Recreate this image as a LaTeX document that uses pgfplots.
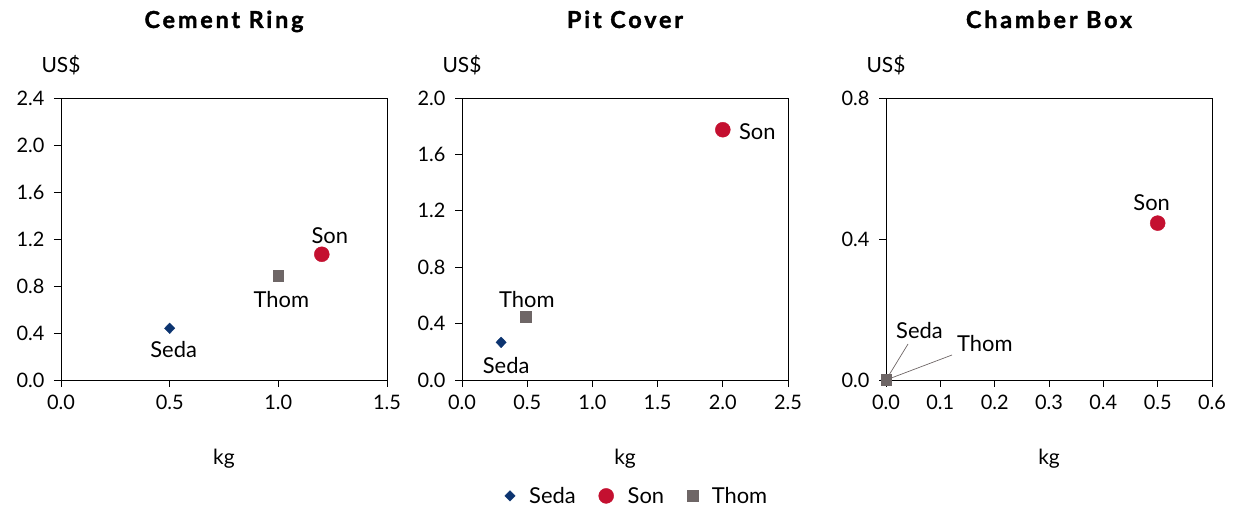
\documentclass[border=0pt]{standalone}
\usepackage{fontspec}
\setmainfont{Lato}
\usepackage{pgfplots}
\pgfplotsset{compat=1.18}

\definecolor{cseda}{RGB}{12,52,112}
\definecolor{cson}{RGB}{196,16,48}
\definecolor{cthom}{RGB}{110,102,102}

\newcommand{\fs}{\fontsize{20}{24}\selectfont}
\newcommand{\fl}{\fontsize{22}{26}\selectfont}

\pgfplotsset{
  panel/.style={
    scale only axis, width=326bp, height=282bp,
    axis line style={line width=0.9bp, black},
    tick align=outside, xtick pos=bottom, ytick pos=left,
    major tick length=7bp, tick style={line width=0.9bp, black},
    /pgf/number format/fixed, /pgf/number format/fixed zerofill,
    /pgf/number format/precision=1, /pgf/number format/assume math mode=true,
    ticklabel style={font=\fs},
    xticklabel style={yshift=-5bp},
    yticklabel style={xshift=-6bp},
    clip=false, xmin=0, ymin=0,
    every node near coord/.append style={font=\fl, text=black, inner sep=0pt},
  },
  seda/.style={only marks, mark=diamond*, mark size=5.3bp, color=cseda, mark options={fill=cseda, draw=cseda, xscale=1.3}},
  son/.style={only marks, mark=*, mark size=7.5bp, color=cson, mark options={fill=cson, draw=cson}},
  thom/.style={only marks, mark=square*, mark size=5.3bp, color=cthom, mark options={fill=cthom, draw=cthom}},
}

\newcommand{\paneldeco}[1]{%
  \node[font=\fontsize{23.5}{27}\selectfont\bfseries\addfontfeatures{FakeBold=1.5,LetterSpace=12}, anchor=base] at (rel axis cs:0.5,1) [yshift=70bp] {#1};
  \node[font=\fontsize{21}{25}\selectfont, anchor=base] at (rel axis cs:0,1) [yshift=25bp] {US\$};
  \node[font=\fontsize{21}{25}\selectfont, anchor=base] at (rel axis cs:0.5,0) [yshift=-84bp] {kg};
}

\begin{document}
\begin{tikzpicture}
\path[use as bounding box] (0,0) rectangle (1236bp,510bp);

% Panel 1
\begin{axis}[panel, at={(61bp,130bp)}, anchor=south west,
  xmax=1.5, xtick={0,0.5,1.0,1.5},
  ymax=2.4, ytick={0,0.4,0.8,1.2,1.6,2.0,2.4}]
\addplot[seda, nodes near coords={Seda}, every node near coord/.append style={anchor=base, xshift=4bp, yshift=-29bp}] coordinates {(0.5,0.44)};
\addplot[son, nodes near coords={Son}, every node near coord/.append style={anchor=base, xshift=8bp, yshift=11bp}] coordinates {(1.2,1.07)};
\addplot[thom, nodes near coords={Thom}, every node near coord/.append style={anchor=base, xshift=3bp, yshift=-32bp}] coordinates {(1.0,0.89)};
\paneldeco{Cement Ring}
\end{axis}

% Panel 2
\begin{axis}[panel, at={(462bp,130bp)}, anchor=south west,
  xmax=2.5, xtick={0,0.5,1.0,1.5,2.0,2.5},
  ymax=2.0, ytick={0,0.4,0.8,1.2,1.6,2.0},
  legend style={draw=none, fill=none, font=\fl, legend columns=3,
    at={(0.5,-0.411)}, anchor=center, xshift=12bp,
    /tikz/every odd column/.append style={column sep=12bp},
    /tikz/every even column/.append style={column sep=21bp}},
  legend image code/.code={\draw[#1] plot coordinates {(0bp,0bp)};}]
\addplot[seda, nodes near coords={Seda}, every node near coord/.append style={anchor=base, xshift=5bp, yshift=-31bp}] coordinates {(0.3,0.267)};
\addplot[son, nodes near coords={Son}, every node near coord/.append style={anchor=base west, xshift=16bp, yshift=-10bp}] coordinates {(2.0,1.775)};
\addplot[thom, nodes near coords={Thom}, every node near coord/.append style={anchor=base, xshift=1bp, yshift=9bp}] coordinates {(0.49,0.447)};
\legend{Seda, Son, Thom}
\paneldeco{Pit Cover}
\end{axis}

% Panel 3
\begin{axis}[panel, at={(886bp,130bp)}, anchor=south west,
  xmax=0.6, xtick={0,0.1,0.2,0.3,0.4,0.5,0.6},
  ymax=0.8, ytick={0,0.4,0.8}]
\draw[cthom, line width=0.7bp] (axis cs:0,0) -- ++(22bp,36bp);
\draw[cthom, line width=0.7bp] (axis cs:0,0) -- ++(66bp,25bp);
\addplot[seda, nodes near coords={Seda}, every node near coord/.append style={anchor=base west, xshift=10bp, yshift=41bp}] coordinates {(0,0)};
\addplot[son, nodes near coords={Son}, every node near coord/.append style={anchor=base, xshift=-6bp, yshift=13bp}] coordinates {(0.5,0.445)};
\addplot[thom, nodes near coords={Thom}, every node near coord/.append style={anchor=base west, xshift=71bp, yshift=28bp}] coordinates {(0,0)};
\paneldeco{Chamber Box}
\end{axis}
\end{tikzpicture}
\end{document}
